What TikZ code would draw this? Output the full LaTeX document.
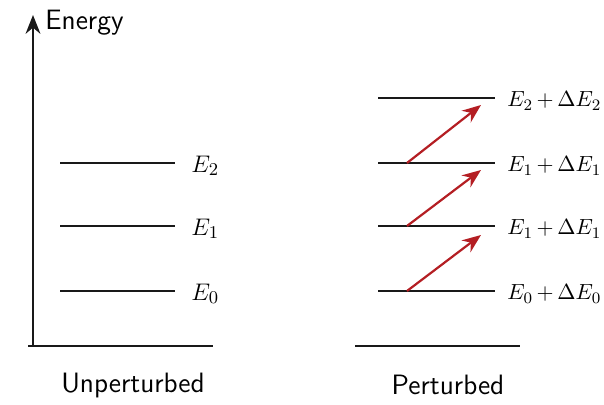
\documentclass[tikz,border=0pt]{standalone}
\usepackage{amsmath,amssymb}
\usepackage{tikz}
\usetikzlibrary{arrows.meta,positioning,calc}
\definecolor{shiftcolor}{RGB}{180,30,35}
\definecolor{levelcolor}{RGB}{25,25,25}
\tikzset{
  levelline/.style={levelcolor, line width=1.1pt},
  shiftarrow/.style={->, shiftcolor, line width=1.1pt},
  lvlabel/.style={anchor=west, font=\fontsize{12.5}{14}\selectfont, inner sep=0pt},
  caption/.style={font=\sffamily\fontsize{14}{16}\selectfont}
}
\begin{document}
\begin{tikzpicture}[x=0.5pt, y=-0.5pt, >={Stealth[length=3.3mm, width=2.6mm]}]
    \useasboundingbox (0,0) rectangle (604,405);
    % --- energy axis ---
    \coordinate (axbot) at (33,346);
    \coordinate (axtop) at (33,15);
    \draw[->, levelcolor, line width=1.1pt] (axbot) -- (axtop);
    \node[anchor=west, caption, inner sep=0pt] (energy) at (45,23) {Energy};
    % --- unperturbed levels ---
    \coordinate (ubl) at (28,346);  \coordinate (ubr) at (213,346);
    \draw[levelline] (ubl) -- (ubr);
    \foreach \y/\n in {291/0, 226/1, 163/2}{
      \coordinate (u\n l) at (60,\y);
      \coordinate (u\n r) at (175,\y);
      \draw[levelline] (u\n l) -- (u\n r);
      \node[lvlabel] (ulab\n) at (191,\y+3) {$E_{\n}$};
    }
    \node[caption] (unpert) at (133,385) {Unperturbed};
    % --- perturbed levels ---
    \coordinate (pbl) at (355,346);  \coordinate (pbr) at (520,346);
    \draw[levelline] (pbl) -- (pbr);
    \foreach \y/\n/\t in {291/a/0, 226/b/1, 163/c/1, 98/d/2}{
      \coordinate (p\n l) at (378,\y);
      \coordinate (p\n r) at (495,\y);
      \coordinate (p\n s) at (407,\y);
      \draw[levelline] (p\n l) -- (p\n r);
      \node[lvlabel, font=\fontsize{11}{13}\selectfont] (plab\n) at (507,\y+3)
        {$E_{\t}\,{+}\,\Delta E_{\t}$};
    }
    \node[caption] (pert) at (448,385) {Perturbed};
    % --- shifts: each level pushed upward ---
    \coordinate (tipa) at (481,235);
    \coordinate (tipb) at (481,170);
    \coordinate (tipc) at (481,105);
    \draw[shiftarrow] (pas) -- (tipa);
    \draw[shiftarrow] (pbs) -- (tipb);
    \draw[shiftarrow] (pcs) -- (tipc);
\end{tikzpicture}
\end{document}
